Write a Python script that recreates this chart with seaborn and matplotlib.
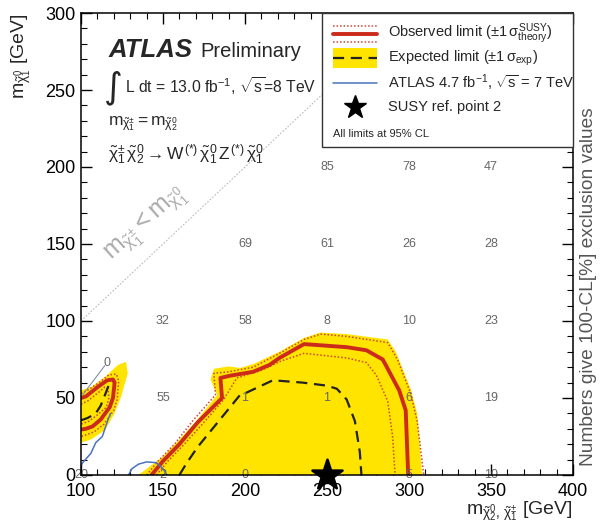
import numpy as np
import pandas as pd
import matplotlib
matplotlib.use("Agg")
import matplotlib.pyplot as plt
import seaborn as sns
from matplotlib.patches import Rectangle
from matplotlib.ticker import MultipleLocator

# ---------------- data ----------------
# expected limit +1 sigma band (yellow), main region, closed on the x axis
yel_x = [135, 140, 150, 160, 171, 183, 179, 181, 190, 197, 205, 221, 236, 246, 262, 287, 292, 301, 305, 308]
yel_y = [0, 4, 12, 23, 36, 52, 62, 69, 70.5, 69.5, 72, 80, 89, 92.5, 91.5, 88, 80, 56, 40, 0]
# left island of the yellow band (closed on the y axis)
isl_yel_x = [100, 106, 114.5, 120.5, 124.5, 128.5, 127.5, 122.5, 114.5, 106, 100]
isl_yel_y = [21, 23, 29, 40, 51, 66, 73.5, 71.5, 63.5, 57, 55]

# observed limit
obs_x = [143, 150, 160, 171, 186, 185, 191, 205, 215, 221, 236, 262, 274, 284, 294, 298, 299.5]
obs_y = [0, 9, 20, 34, 50, 63, 64.5, 67, 71.5, 76, 85, 83, 81, 75, 55, 42, 0]
# observed +1 sigma theory
obsu_x = [140, 147, 157, 168, 182, 181, 190, 205, 221, 236, 246, 262, 287, 293, 301, 305, 309]
obsu_y = [0, 9, 20, 35, 52, 66, 67, 70, 79, 88, 91.5, 90, 86, 75, 53, 35, 0]
# observed -1 sigma theory
obsd_x = [146, 153, 163, 174, 187, 195, 210, 222, 236, 262, 274, 280, 287, 290, 291.5]
obsd_y = [0, 9, 20, 33, 49, 63, 68, 74, 79, 76, 73, 65, 48, 25, 0]
# expected limit
exp_x = [160, 164, 171, 184, 197, 201, 210, 217, 235, 250, 256, 262, 267, 270, 271]
exp_y = [0, 7, 18, 35, 52, 53.5, 58, 61.5, 60, 58, 56, 49, 35, 15, 0]

# left island contours
isl_obs_x = [100, 103, 110, 116, 119.5, 120.5, 119.5, 117.5, 112, 107, 103, 100]
isl_obs_y = [50, 51, 57, 61.5, 62, 60, 50, 44, 36, 31.5, 30, 29.5]
isl_obsu_x = [100, 104, 111, 117, 121.5, 123, 122, 120, 114, 108, 103, 100]
isl_obsu_y = [53, 55, 60, 65, 65.5, 61, 49, 42, 33, 28, 26, 25]
isl_obsd_x = [100, 104, 110, 114.5, 116.5, 117, 115.5, 110, 105, 100]
isl_obsd_y = [46, 48, 53, 57, 56, 50, 44, 39, 35, 33]
isl_exp_x = [100, 104, 109, 112, 115, 117.5]
isl_exp_y = [35.5, 37, 40, 45, 53, 60]

# ATLAS 4.7 fb-1, 7 TeV
blue1_x = [100, 101, 106, 109, 113, 116.5, 118]
blue1_y = [6, 8, 14, 21, 25, 36, 40]
blue2_x = [129, 131, 135, 140, 146, 150, 152.5]
blue2_y = [0, 4, 7, 8.5, 8, 4, 0]

# kinematic boundary
diag_x = [100, 300]
diag_y = [100, 300]

# SUSY reference point 2
star_x = [250]
star_y = [0]

# 100-CL [%] numbers
num_x = [250, 300, 350, 200, 250, 300, 350, 150, 200, 250, 300, 350,
         116, 150, 200, 250, 300, 350, 100, 150, 200, 300, 350]
num_y = [200, 200, 200, 150, 150, 150, 150, 100, 100, 100, 100, 100,
         73, 50, 50, 50, 50, 50, 0, 0, 0, 0, 0]
num_v = ["85", "78", "47", "69", "61", "26", "28", "32", "58", "8", "10", "23",
         "0", "55", "1", "1", "6", "19", "20", "2", "0", "5", "10"]
# pointer from the displaced "0" label to its grid point
ptr_x = [114.5, 101]
ptr_y = [71, 52]

x_ticks = [100, 150, 200, 250, 300, 350, 400]
y_ticks = [0, 50, 100, 150, 200, 250, 300]

# ---------------- style ----------------
sns.set_theme(style="ticks")
plt.rcParams['font.family'] = ['Liberation Sans', 'DejaVu Sans']
plt.rcParams['mathtext.fontset'] = 'custom'
plt.rcParams['mathtext.rm'] = 'Liberation Sans'
plt.rcParams['mathtext.it'] = 'Liberation Sans'
plt.rcParams['mathtext.bf'] = 'Liberation Sans:bold'
plt.rcParams['mathtext.sf'] = 'Liberation Sans'

YELLOW = "#ffe400"
RED = "#cc2a1a"
DOT = "#d04535"
BLUE = "#4a74c0"

fig = plt.figure(figsize=(6.0, 5.31), dpi=100)
ax = fig.add_axes([0.135, 0.1055, 0.82, 0.87])
ax.set_facecolor("white")

# yellow band
ax.fill(yel_x, yel_y, color=YELLOW, lw=0, zorder=1)
ax.fill(isl_yel_x, isl_yel_y, color=YELLOW, lw=0, zorder=1)

def line(x, y, **kw):
    sns.lineplot(x=x, y=y, sort=False, estimator=None, ax=ax, legend=False, **kw)

# diagonal
line(diag_x, diag_y, color="#bbbbbb", lw=0.8, linestyle=(0, (1.5, 1.5)), zorder=1)

# dotted observed +/- 1 sigma
for xx, yy in [(obsu_x, obsu_y), (obsd_x, obsd_y), (isl_obsu_x, isl_obsu_y), (isl_obsd_x, isl_obsd_y)]:
    line(xx, yy, color=DOT, lw=1.1, linestyle=(0, (1, 1.3)), zorder=3)
# expected
for xx, yy in [(exp_x, exp_y), (isl_exp_x, isl_exp_y)]:
    line(xx, yy, color="#222222", lw=1.6, linestyle=(0, (5, 3)), zorder=4)
# observed
for xx, yy in [(obs_x, obs_y), (isl_obs_x, isl_obs_y)]:
    line(xx, yy, color=RED, lw=2.8, zorder=5)
# ATLAS 7 TeV
for xx, yy in [(blue1_x, blue1_y), (blue2_x, blue2_y)]:
    line(xx, yy, color=BLUE, lw=1.1, zorder=6)
# pointer
line(ptr_x, ptr_y, color="#8090a8", lw=0.8, zorder=6)

# numbers
for xx, yy, vv in zip(num_x, num_y, num_v):
    ax.text(xx, yy, vv, ha="center", va="center", fontsize=9, color="#666666", zorder=7)

# star
sns.scatterplot(x=star_x, y=star_y, marker="*", s=520, color="black", edgecolor="black",
                ax=ax, legend=False, zorder=12, clip_on=False)

# axes
ax.set_xlim(100, 400)
ax.set_ylim(0, 300)
ax.set_xticks(x_ticks)
ax.set_yticks(y_ticks)
ax.xaxis.set_minor_locator(MultipleLocator(10))
ax.yaxis.set_minor_locator(MultipleLocator(10))
ax.tick_params(which="both", direction="in", top=True, right=True, labelsize=13, colors="black")
ax.tick_params(which="major", length=8, width=1.0)
ax.tick_params(which="minor", length=4.5, width=0.8)
ax.tick_params(axis="x", pad=6)
ax.tick_params(axis="y", pad=4)
for s in ax.spines.values():
    s.set_color("black")
    s.set_linewidth(1.1)
    s.set_zorder(11)
ax.set_xlabel("")
ax.set_ylabel("")

# axis titles
ax.text(1.0, -0.052, r"$\mathregular{m}_{\tilde{\chi}_2^0,\,\tilde{\chi}_1^{\pm}}$ [GeV]", transform=ax.transAxes,
        ha="right", va="top", fontsize=14)
ax.text(-0.122, 1.0, r"$\mathregular{m}_{\tilde{\chi}_1^0}$ [GeV]", transform=ax.transAxes,
        ha="center", va="top", rotation=90, fontsize=14)
ax.text(1.0325, 0.02, "Numbers give 100-CL[%] exclusion values", transform=ax.transAxes,
        ha="center", va="bottom", rotation=90, fontsize=13.8, color="#555555")

# header texts
ax.text(0.055, 0.905, "ATLAS", transform=ax.transAxes, fontsize=18.5, fontweight="bold",
        fontstyle="italic", ha="left", va="baseline", zorder=8)
ax.text(0.242, 0.905, "Preliminary", transform=ax.transAxes, fontsize=14.5,
        ha="left", va="baseline", zorder=8)
ax.text(0.046, 0.838, "\u222b", transform=ax.transAxes, fontsize=26,
        family=["DejaVu Sans"], ha="left", va="center", zorder=8)
ax.text(0.09, 0.827, r"L dt = 13.0 fb$^{-1}$, $\sqrt{s}$=8 TeV", transform=ax.transAxes,
        fontsize=11.3, ha="left", va="baseline", zorder=8)
ax.text(0.055, 0.758, r"$m_{\tilde{\chi}_1^{\pm}} = m_{\tilde{\chi}_2^{0}}$", transform=ax.transAxes,
        fontsize=12.5, ha="left", va="baseline", zorder=8)
ax.text(0.055, 0.682,
        r"$\tilde{\chi}_1^{\pm}\,\tilde{\chi}_2^{0} \rightarrow W^{(*)}\,\tilde{\chi}_1^{0}\,Z^{(*)}\,\tilde{\chi}_1^{0}$",
        transform=ax.transAxes, fontsize=12.5, ha="left", va="baseline", zorder=8)
ax.text(0.133, 0.541, r"$m_{\tilde{\chi}_1^{\pm}} < m_{\tilde{\chi}_1^{0}}$", transform=ax.transAxes,
        fontsize=18, color="#aaaaaa", rotation=42, ha="center", va="center", zorder=8)

# legend box (manual, ROOT style)
T = ax.transAxes
ax.add_patch(Rectangle((0.49, 0.71), 0.51, 0.29, transform=T, facecolor="white",
                       edgecolor="#333333", lw=1.0, zorder=20, clip_on=False))
hx = [0.512, 0.602]
ax.plot(hx, [0.972, 0.972], transform=T, color=DOT, lw=1.1, linestyle=(0, (1, 1.3)), zorder=21)
ax.plot(hx, [0.937, 0.937], transform=T, color=DOT, lw=1.1, linestyle=(0, (1, 1.3)), zorder=21)
ax.plot(hx, [0.955, 0.955], transform=T, color=RED, lw=2.8, zorder=21)
ax.add_patch(Rectangle((hx[0], 0.881), hx[1] - hx[0], 0.043, transform=T, facecolor=YELLOW,
                       lw=0, zorder=21))
ax.plot(hx, [0.902, 0.902], transform=T, color="#222222", lw=1.6, linestyle=(0, (5, 3)), zorder=22)
ax.plot(hx, [0.848, 0.848], transform=T, color=BLUE, lw=1.1, zorder=21)
ax.plot([0.557], [0.797], transform=T, marker="*", ms=17, color="black", zorder=21)
tx = 0.624
kw = dict(transform=T, fontsize=10.5, ha="left", va="center", zorder=22)
ax.text(tx, 0.955, r"Observed limit ($\pm1\,\sigma^{\mathrm{SUSY}}_{\mathrm{theory}}$)", **kw)
ax.text(tx, 0.902, r"Expected limit ($\pm1\,\sigma_{\mathrm{exp}}$)", **kw)
ax.text(tx, 0.848, r"ATLAS 4.7 fb$^{-1}$, $\sqrt{s}$ = 7 TeV", **kw)
ax.text(tx, 0.797, "SUSY ref. point 2", **kw)
ax.text(0.512, 0.738, "All limits at 95% CL", transform=T, fontsize=8, ha="left", va="center", zorder=22)

fig.savefig("out.png", dpi=100)
